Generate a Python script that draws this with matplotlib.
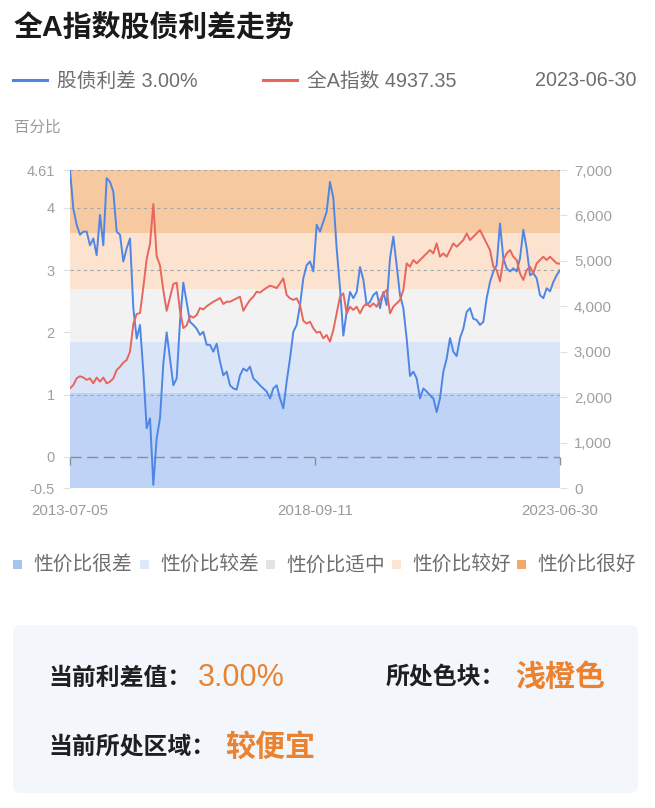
import numpy as np
import matplotlib.pyplot as plt
from matplotlib.lines import Line2D
from matplotlib.patches import Rectangle, FancyBboxPatch

# Latin/digits in a Helvetica-like face, CJK falls through to Noto
plt.rcParams['font.family'] = ['Liberation Sans', 'Noto Sans CJK SC', 'DejaVu Sans']

# stock-bond spread (%), 2013-07-05 .. 2023-06-30
spread = [
    4.61, 3.99, 3.73, 3.57, 3.62, 3.62, 3.40, 3.51, 3.24, 3.89,
    3.40, 4.48, 4.42, 4.26, 3.62, 3.57, 3.14, 3.35, 3.51, 2.39,
    1.90, 2.12, 1.37, 0.46, 0.62, -0.45, 0.30, 0.62, 1.50, 2.00,
    1.58, 1.15, 1.26, 2.17, 2.80, 2.49, 2.17, 2.12, 2.06, 1.96,
    2.01, 1.80, 1.80, 1.69, 1.82, 1.53, 1.31, 1.37, 1.15, 1.10,
    1.08, 1.31, 1.42, 1.38, 1.45, 1.26, 1.21, 1.15, 1.10, 1.05,
    0.94, 1.10, 1.15, 0.94, 0.78, 1.21, 1.58, 2.01, 2.12, 2.44,
    2.87, 3.08, 3.14, 2.98, 3.73, 3.62, 3.78, 3.94, 4.42, 4.16,
    3.35, 2.71, 1.95, 2.33, 2.65, 2.55, 2.65, 3.05, 2.85, 2.44,
    2.49, 2.60, 2.65, 2.39, 2.65, 2.44, 3.19, 3.54, 3.08, 2.60,
    2.39, 1.90, 1.30, 1.37, 1.26, 0.94, 1.10, 1.05, 0.99, 0.94,
    0.72, 0.94, 1.37, 1.58, 1.91, 1.69, 1.62, 1.91, 2.06, 2.33,
    2.39, 2.22, 2.20, 2.12, 2.17, 2.55, 2.81, 2.98, 3.08, 3.75,
    3.19, 3.03, 2.98, 3.03, 2.98, 3.19, 3.65, 3.35, 2.92, 2.95,
    2.87, 2.60, 2.55, 2.71, 2.66, 2.81, 2.92, 3.00,
]

# Wind All-A index level, same dates
index_a = [
    2194, 2267, 2414, 2460, 2432, 2380, 2414, 2304, 2432, 2340,
    2432, 2304, 2340, 2414, 2597, 2670, 2760, 2817, 3000, 3610,
    3830, 3850, 4420, 5040, 5370, 6250, 5100, 4900, 4350, 3900,
    4200, 4490, 4520, 3900, 3520, 3580, 3790, 3750, 3808, 3962,
    3930, 4000, 4050, 4101, 4138, 4182, 4050, 4101, 4100, 4138,
    4175, 4212, 3900, 4028, 4138, 4212, 4321, 4300, 4358, 4409,
    4453, 4431, 4400, 4505, 4615, 4248, 4175, 4140, 4175, 4028,
    3680, 3620, 3661, 3515, 3420, 3441, 3294, 3368, 3221, 3478,
    3845, 4211, 4285, 3845, 3991, 3918, 3991, 3845, 3991, 4065,
    3991, 4065, 3991, 4138, 4285, 4358, 3845, 3991, 4065, 4138,
    4358, 4945, 4871, 5018, 4945, 5018, 5091, 5165, 5238, 5165,
    5385, 5091, 5165, 5091, 5238, 5385, 5311, 5385, 5458, 5605,
    5458, 5531, 5605, 5678, 5531, 5385, 5238, 4871, 4798, 4550,
    5018, 5165, 5238, 5091, 5018, 4725, 4578, 4798, 4871, 4725,
    4945, 5018, 5091, 5018, 5091, 5018, 4945, 4937,
]

date_labels = ['2013-07-05', '2018-09-11', '2023-06-30']

band_edges = [-0.5, 1.03, 1.85, 2.70, 3.60, 4.61]
band_names = ['性价比很差', '性价比较差', '性价比适中', '性价比较好', '性价比很好']
band_colors = ['#BED3F5', '#DAE6F8', '#F2F2F2', '#FBE3CF', '#F6C9A1']
legend_colors = ['#A9C3EF', '#DDE8F8', '#E3E3E3', '#FBE5D4', '#F0A96A']

left_ticks = [-0.5, 0, 1, 2, 3, 4, 4.61]
left_labels = ['-0.5', '0', '1', '2', '3', '4', '4.61']
grid_levels = [-0.5, 1, 3, 4, 4.61]
right_ticks = [0, 1000, 2000, 3000, 4000, 5000, 6000, 7000]

BLUE = '#4F86E6'
RED = '#E8665E'
ORANGE = '#EA8230'

W, H = 655, 808
fig = plt.figure(figsize=(W / 100, H / 100), dpi=100)


def fx(px):
    return px / W


def fy(py):
    return 1 - py / H


# chart area
ax = fig.add_axes([fx(70), fy(488), 490 / W, 318 / H])
ax2 = ax.twinx()
x = np.arange(len(spread))

for lo, hi, c in zip(band_edges[:-1], band_edges[1:], band_colors):
    ax.axhspan(lo, hi, color=c, lw=0, zorder=0)
for g in grid_levels:
    ax.axhline(g, color='#A6A6A6', lw=0.8, ls=(0, (3, 3)), zorder=1)
ax.axhline(0, color='#8A8F99', lw=1.0, ls=(0, (8, 4)), zorder=1)

ax.plot(x, spread, color=BLUE, lw=1.4, zorder=3)
ax2.plot(x, index_a, color=RED, lw=1.4, zorder=3)

ax.set_xlim(0, len(x) - 1)
ax.set_ylim(-0.5, 4.61)
ax2.set_ylim(0, 7000)

for a in (ax, ax2):
    for s in a.spines.values():
        s.set_visible(False)

ax.spines['bottom'].set_position(('data', 0))
ax.set_xticks([0, (len(x) - 1) / 2, len(x) - 1])
ax.set_xticklabels(date_labels)
ax.tick_params(axis='x', length=6, width=1, color='#8A8F99', pad=28,
               labelsize=10.8, labelcolor='#9A9A9A')

ax.set_yticks(left_ticks)
ax.set_yticklabels(left_labels)
ax.tick_params(axis='y', length=5, width=0.8, color='#E0E0E0', pad=6,
               labelsize=10.5, labelcolor='#A0A0A0')

ax2.set_yticks(right_ticks)
ax2.set_yticklabels([f'{v:,}' for v in right_ticks])
ax2.tick_params(axis='y', length=5, width=0.8, color='#E0E0E0', pad=5,
                labelsize=10.8, labelcolor='#A0A0A0')

# header
fig.text(fx(14), fy(27), '全A指数股债利差走势', fontsize=20.8,
         fontweight='bold', color='#1A1A1A', va='center')
fig.add_artist(Line2D([fx(13), fx(47)], [fy(80), fy(80)], color=BLUE, lw=2.2))
fig.text(fx(57), fy(81), f'股债利差 {spread[-1]:.2f}%', fontsize=14.2,
         color='#6E6E6E', va='center')
fig.add_artist(Line2D([fx(263), fx(297)], [fy(80), fy(80)], color=RED, lw=2.2))
fig.text(fx(307), fy(81), '全A指数 4937.35', fontsize=14.2,
         color='#6E6E6E', va='center')
fig.text(fx(637), fy(81), date_labels[-1], fontsize=14.2, color='#6E6E6E',
         va='center', ha='right')
fig.text(fx(14), fy(127), '百分比', fontsize=11.2, color='#9A9A9A', va='center')

# band legend
sq_x = [13, 140, 266, 392, 517]
for sx, name, c in zip(sq_x, band_names, legend_colors):
    fig.add_artist(Rectangle((fx(sx), fy(569)), 9 / W, 9 / H,
                             transform=fig.transFigure, color=c, lw=0))
    fig.text(fx(sx + 20), fy(565), name, fontsize=14.2, color='#6E6E6E',
             va='center')

# summary box
box = FancyBboxPatch((fx(13), fy(793)), (638 - 13) / W, (793 - 625) / H,
                     boxstyle='round,pad=0,rounding_size=0.012',
                     mutation_aspect=W / H, transform=fig.transFigure,
                     fc='#F3F7FC', ec='none')
fig.add_artist(box)

fig.text(fx(48), fy(678), '当前利差值：', fontsize=17.2, fontweight='bold',
         color='#1F1F1F', va='center')
fig.text(fx(198), fy(678), f'{spread[-1]:.2f}%', fontsize=22, color=ORANGE,
         va='center')
fig.text(fx(386), fy(678), '所处色块：', fontsize=17.2, fontweight='bold',
         color='#1F1F1F', va='center')
fig.text(fx(515), fy(678), '浅橙色', fontsize=21.6, fontweight='bold',
         color=ORANGE, va='center')
fig.text(fx(48), fy(747), '当前所处区域：', fontsize=17.2, fontweight='bold',
         color='#1F1F1F', va='center')
fig.text(fx(225), fy(747), '较便宜', fontsize=21.6, fontweight='bold',
         color=ORANGE, va='center')

fig.savefig('out.png', dpi=100, facecolor='white')
